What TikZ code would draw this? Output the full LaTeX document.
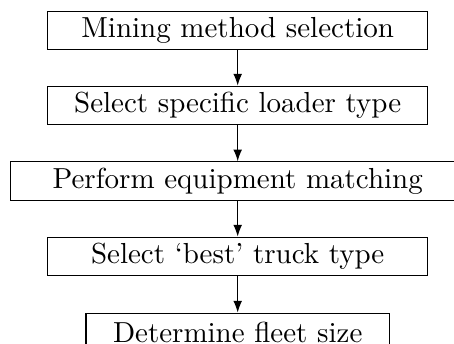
\documentclass[tikz,border=0pt]{standalone}
\usetikzlibrary{arrows.meta}
\begin{document}
\begin{tikzpicture}[x=0.345pt,y=-0.345pt,
  stepbox/.style={draw,line width=0.4pt,minimum height=13.35pt,inner sep=0pt,font=\fontsize{10}{12}\selectfont},
  conn/.style={-{Latex[length=4pt,width=3pt]},line width=0.4pt}]
\clip (0,0) rectangle (454,344);
\node[stepbox,minimum width=131.1pt] (a) at (237.7,30.5) {Mining method selection};
\node[stepbox,minimum width=131.1pt] (b) at (237.7,105.5) {Select specific loader type};
\node[stepbox,minimum width=156.6pt] (c) at (237.7,181.2) {Perform equipment matching};
\node[stepbox,minimum width=131.1pt] (d) at (237.7,256.5) {Select `best' truck type};
\node[stepbox,minimum width=104.7pt] (e) at (237.7,332.5) {Determine fleet size};
\draw[conn] (a) -- (b);
\draw[conn] (b) -- (c);
\draw[conn] (c) -- (d);
\draw[conn] (d) -- (e);
\end{tikzpicture}
\end{document}
